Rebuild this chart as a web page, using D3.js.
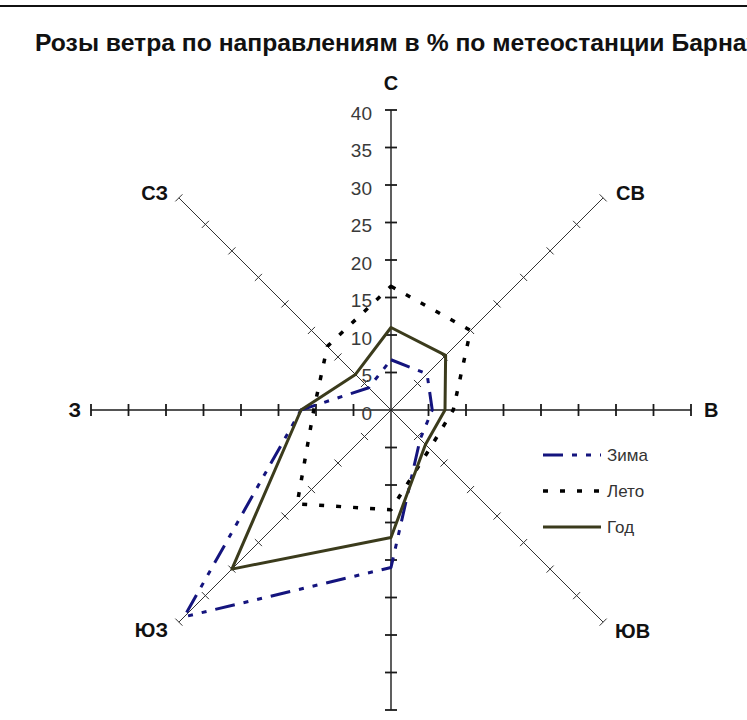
<!DOCTYPE html>
<html><head><meta charset="utf-8">
<script src="https://cdn.jsdelivr.net/npm/d3@7"></script>
<style>html,body{margin:0;padding:0;background:#fff;overflow:hidden}</style>
</head><body>
<svg id="chart" width="747" height="720"></svg>
<script>
// ---- data ----
const directions = ["С","СВ","В","ЮВ","Ю","ЮЗ","З","СЗ"];
const winter = [6.7, 6.8, 5.5, 5.5, 21, 39, 12, 4.2];   // Зима
const summer = [16.5, 15, 8.3, 7.3, 13.3, 17.7, 10.3, 12]; // Лето
const yearly = [11, 10.3, 7.2, 6.5, 17, 30, 12, 6.7];   // Год
const seriesNames = ["Зима", "Лето", "Год"];
const tickValues = [0, 5, 10, 15, 20, 25, 30, 35, 40];
const titleText = "Розы ветра по направлениям в % по метеостанции Барнаул";

// ---- layout ----
const W = 747, H = 720;
const cx = 391, cy = 410, R = 300;
const svg = d3.select("#chart");
const font = "'Liberation Sans', Arial, sans-serif";

svg.append("rect").attr("width", W).attr("height", H).attr("fill", "#fff");
svg.append("line").attr("x1", 0).attr("x2", W).attr("y1", 6).attr("y2", 6)
  .attr("stroke", "#111").attr("stroke-width", 2.2);

// title, sized so that "...Барна" reaches the right edge
const title = svg.append("text").attr("x", 35).attr("y", 51)
  .attr("font-family", font).attr("font-weight", "bold").attr("fill", "#111")
  .attr("font-size", 20).text(titleText.slice(0, titleText.length - 2));
const wMeas = title.node().getComputedTextLength();
const fs = 20 * (747 - 35) / wMeas;
title.attr("font-size", fs).text(titleText);

const r = d3.scaleLinear().domain([0, 40]).range([0, R]);
const ang = d3.scaleLinear().domain([0, directions.length]).range([0, 2 * Math.PI]);
const g = svg.append("g").attr("transform", `translate(${cx},${cy})`);

const px = (i, v) => r(v) * Math.sin(ang(i));
const py = (i, v) => -r(v) * Math.cos(ang(i));

// axes
directions.forEach((d, i) => {
  const main = i % 2 === 0;
  g.append("line").attr("x1", 0).attr("y1", 0)
    .attr("x2", px(i, 40)).attr("y2", py(i, 40))
    .attr("stroke", main ? "#1a1a1a" : "#333").attr("stroke-width", main ? 1.4 : 1);
  const a = ang(i);
  const nx = Math.cos(a), ny = Math.sin(a); // perpendicular direction
  const hl = main ? 6 : 5;
  tickValues.filter(t => t > 0).forEach(t => {
    const x0 = px(i, t), y0 = py(i, t);
    g.append("line")
      .attr("x1", x0 - nx * hl).attr("y1", y0 - ny * hl)
      .attr("x2", x0 + nx * hl).attr("y2", y0 + ny * hl)
      .attr("stroke", main ? "#1a1a1a" : "#333").attr("stroke-width", main ? 1.8 : 1);
  });
});

// tick labels on first axis
g.selectAll("text.tick").data(tickValues).enter().append("text")
  .attr("class", "tick")
  .attr("x", -19).attr("y", d => -r(d) + 3)
  .attr("dominant-baseline", "central").attr("text-anchor", "end")
  .attr("font-family", font).attr("font-size", 19).attr("fill", "#3a3a3a")
  .text(d => d);

// direction labels
const labelPos = {
  "С":  {x: 391, y: 83, anchor: "middle"},
  "СВ": {x: 616, y: 193, anchor: "start"},
  "В":  {x: 704, y: 410, anchor: "start"},
  "ЮВ": {x: 615, y: 631, anchor: "start"},
  "Ю":  {x: 391, y: 740, anchor: "middle"},
  "ЮЗ": {x: 168, y: 630, anchor: "end"},
  "З":  {x: 81,  y: 410, anchor: "end"},
  "СЗ": {x: 168, y: 193, anchor: "end"}
};
directions.forEach(d => {
  const p = labelPos[d];
  if (p.y > H) return;
  svg.append("text").attr("x", p.x).attr("y", p.y)
    .attr("text-anchor", p.anchor).attr("dominant-baseline", "central")
    .attr("font-family", font).attr("font-weight", "bold").attr("font-size", 20)
    .attr("fill", "#111").text(d);
});

// series
const series = [
  {name: seriesNames[0], values: winter, color: "#14147e", width: 3, dash: "20,9,5,9,5,9"},
  {name: seriesNames[1], values: summer, color: "#000000", width: 3.5, dash: "5,12"},
  {name: seriesNames[2], values: yearly, color: "#3b3b1c", width: 3, dash: null}
];
const radial = d3.lineRadial()
  .angle((d, i) => ang(i)).radius(d => r(d))
  .curve(d3.curveLinearClosed);
series.forEach(s => {
  g.append("path").attr("d", radial(s.values))
    .attr("fill", "none").attr("stroke", s.color).attr("stroke-width", s.width)
    .attr("stroke-dasharray", s.dash).attr("stroke-linejoin", "round");
});

// legend
const lg = svg.append("g").attr("transform", "translate(543,455)");
series.forEach((s, k) => {
  const y = k * 36;
  lg.append("line").attr("x1", 0).attr("x2", 58).attr("y1", y).attr("y2", y)
    .attr("stroke", s.color).attr("stroke-width", s.width)
    .attr("stroke-dasharray", s.dash);
  lg.append("text").attr("x", 64).attr("y", y).attr("dominant-baseline", "central")
    .attr("font-family", font).attr("font-size", 17).attr("fill", "#333").text(s.name);
});
</script>
</body></html>
